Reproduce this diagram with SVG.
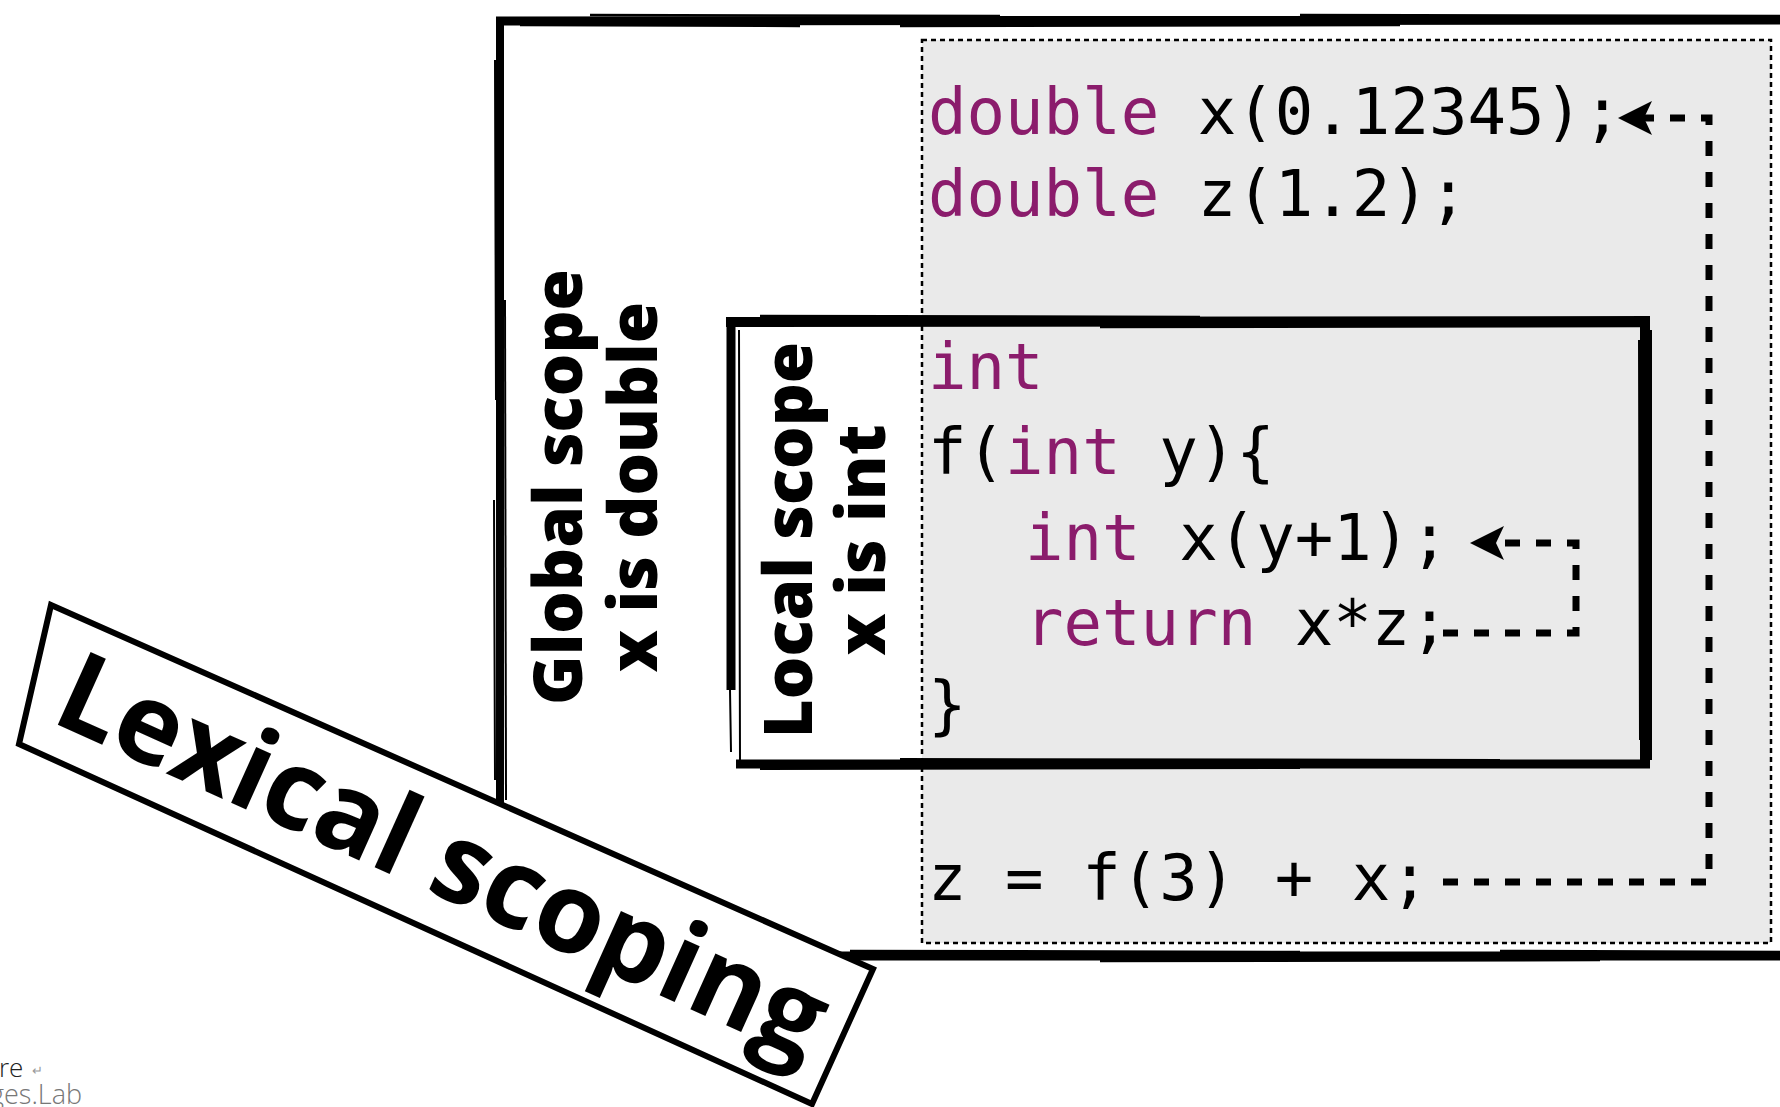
<svg xmlns="http://www.w3.org/2000/svg" width="1780" height="1107" viewBox="0 0 1780 1107">
<style>
.sk{fill:none;stroke:#000;stroke-linecap:butt}
.code{font-family:"DejaVu Sans Mono","Liberation Mono",monospace;font-size:64px;fill:#000}
.kw{fill:#8B1C6C}
.lbl{font-family:"Open Sans","DejaVu Sans",sans-serif;font-weight:800;font-size:67px;fill:#000;text-anchor:middle}
.conn{fill:none;stroke:#000;stroke-width:7;stroke-dasharray:15 16}
</style>
<defs>
<marker id="arrow" markerUnits="userSpaceOnUse" viewBox="0 0 34 34" refX="8" refY="17" markerWidth="34" markerHeight="34" orient="auto">
<path d="M34 17 L0 0 L8 17 L0 34 Z" fill="#000"/>
</marker>
</defs>
<rect width="1780" height="1107" fill="#fff"/>

<g id="global-scope">
<path class="sk" stroke-width="9" d="M496 21 L1785 20"/>
<path class="sk" stroke-width="2.5" d="M590 15 L1000 16 M1300 15 L1785 16"/>
<path class="sk" stroke-width="2.5" d="M900 26 L1400 25 M520 25 L800 26"/>
<path class="sk" stroke-width="8" d="M500 17 L500 960"/>
<path class="sk" stroke-width="2" d="M495 60 L496 400 M494 500 L495 780"/>
<path class="sk" stroke-width="2" d="M505 300 L506 800"/>
<path class="sk" stroke-width="9" d="M496 956 L1785 956"/>
<path class="sk" stroke-width="2.5" d="M850 951 L1300 952 M1100 961 L1600 960 M1500 951 L1785 952"/>
<text class="lbl" transform="translate(582,487) rotate(-90)">Global scope</text>
<text class="lbl" transform="translate(657,487) rotate(-90)">x is double</text>
</g>

<g id="code-block">
<rect x="922" y="40" width="849" height="903" fill="#EAEAEA" stroke="#000" stroke-width="2.5" stroke-dasharray="5 4"/>
<text class="code" x="928" y="134"><tspan class="kw">double</tspan> x(0.12345);</text>
<text class="code" x="928" y="216"><tspan class="kw">double</tspan> z(1.2);</text>
<text class="code" x="928" y="900">z = f(3) + x;</text>
</g>

<g id="local-scope">
<path class="sk" stroke-width="10" d="M726 322 L1650 321"/>
<path class="sk" stroke-width="2.5" d="M760 316 L1200 317 M1100 327 L1640 326"/>
<path class="sk" stroke-width="10" d="M1645 317 L1645 768"/>
<path class="sk" stroke-width="2" d="M1651 330 L1651 760 M1639 340 L1640 740"/>
<path class="sk" stroke-width="9" d="M736 764 L1650 764"/>
<path class="sk" stroke-width="2" d="M760 769 L1300 768 M900 759 L1500 760"/>
<path class="sk" stroke-width="9" d="M731 317 L731 690"/>
<path class="sk" stroke-width="2" d="M730 690 L731 752 M739 330 L740 760"/>
<text class="lbl" transform="translate(812,540) rotate(-90)">Local scope</text>
<text class="lbl" transform="translate(885,540) rotate(-90)">x is int</text>
<text class="code" x="928" y="389"><tspan class="kw">int</tspan></text>
<text class="code" x="928" y="474">f(<tspan class="kw">int</tspan> y){</text>
<text class="code" x="1025" y="560"><tspan class="kw">int</tspan> x(y+1);</text>
<text class="code" x="1025" y="645"><tspan class="kw">return</tspan> x*z;</text>
<text class="code" x="928" y="727">}</text>
</g>

<g id="connectors">
<path class="conn" d="M1443 882 H1709 V118 H1644" marker-end="url(#arrow)"/>
<path class="conn" d="M1443 633 H1576 V543 H1496" marker-end="url(#arrow)"/>
</g>

<g id="title-banner">
<polygon points="51,605 873,969 812,1104 19,744" fill="#fff" stroke="#000" stroke-width="6" stroke-linejoin="miter"/>
<text transform="translate(440,855) rotate(24.2)" x="3" y="38" text-anchor="middle" textLength="830" lengthAdjust="spacingAndGlyphs" font-family="Open Sans, DejaVu Sans, sans-serif" font-weight="700" font-size="112">Lexical scoping</text>
</g>

<g id="footer" font-family="Open Sans, DejaVu Sans, sans-serif" font-weight="300">
<text x="-1" y="1077" fill="#222" font-size="26">re</text>
<text x="32" y="1075" fill="#999" font-size="13" font-family="DejaVu Sans, sans-serif">↵</text>
<text x="-10" y="1104" fill="#777" font-size="27">ges.Lab</text>
</g>
</svg>
